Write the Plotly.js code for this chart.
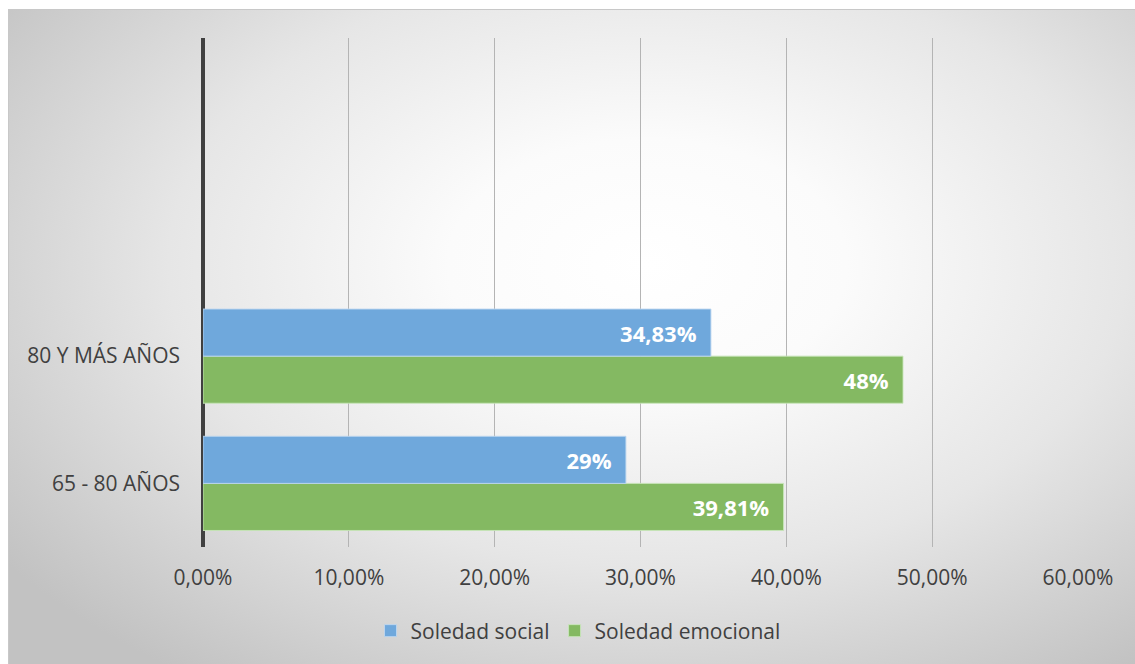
<!DOCTYPE html>
<html><head><meta charset="utf-8">
<script src="https://cdn.plot.ly/plotly-3.0.1.min.js"></script>
<style>
html,body{margin:0;padding:0;background:#fff;width:1135px;height:664px;overflow:hidden;}
#bg{position:absolute;left:8px;top:9px;width:1140px;height:670px;border:1px solid #c8c8c8;
background:radial-gradient(ellipse 70% 75% at 56% 38%, #ffffff 0%, #fbfbfb 25%, #e6e6e6 60%, #c2c2c2 100%);}
#chart{position:absolute;left:0;top:0;width:1135px;height:664px;}
</style></head>
<body><div id="bg"></div><div id="chart"></div>
<script>
const categories = ['65 - 80 AÑOS', '80 Y MÁS AÑOS'];
const socialValues = [0.29, 0.3483];
const emocionalValues = [0.3981, 0.48];
const socialLabels = ['29%', '34,83%'];
const emocionalLabels = ['39,81%', '48%'];
const tickValues = [0, 0.1, 0.2, 0.3, 0.4, 0.5, 0.6];

const FONT = '"Open Sans", sans-serif';
const pad = '\u00a0\u00a0';
const labelFont = {color:'#ffffff', size:22, family:FONT, weight:'bold'};
const traces = [
  {type:'bar', orientation:'h', name:'Soledad emocional', y:categories, x:emocionalValues,
   text:emocionalLabels, texttemplate:'%{text}'+pad, textposition:'inside', insidetextanchor:'end',
   textfont:labelFont, marker:{color:'#84b962', line:{color:'rgba(200,230,185,0.9)', width:1}}, hoverinfo:'skip'},
  {type:'bar', orientation:'h', name:'Soledad social', y:categories, x:socialValues,
   text:socialLabels, texttemplate:'%{text}'+pad, textposition:'inside', insidetextanchor:'end',
   textfont:labelFont, marker:{color:'#6fa8dc', line:{color:'rgba(190,215,240,0.9)', width:1}}, hoverinfo:'skip'}
];
const layout = {
  width:1135, height:664,
  margin:{l:203, r:57, t:38, b:117, autoexpand:false},
  paper_bgcolor:'rgba(0,0,0,0)', plot_bgcolor:'rgba(0,0,0,0)',
  separators:',.',
  barmode:'group', bargap:0.26, bargroupgap:0,
  font:{family:FONT, color:'#404040', size:21},
  xaxis:{range:[0,0.6], tickvals:tickValues, tickformat:'.2%', tickangle:0, showgrid:true, gridcolor:'#b4b4b4', gridwidth:1,
    zeroline:true, zerolinecolor:'#404040', zerolinewidth:4, showline:false, ticks:'', ticklabelstandoff:16,
    tickfont:{size:21, color:'#404040'}, fixedrange:true, automargin:false},
  yaxis:{type:'category', categoryorder:'array', categoryarray:categories, range:[-0.5,3.5],
    showgrid:false, zeroline:false, showline:false, ticks:'', ticklabelstandoff:22,
    tickfont:{size:21, color:'#404040'}, fixedrange:true, automargin:false},
  showlegend:true,
  legend:{orientation:'h', x:0.4286, xanchor:'center', y:-0.165, yanchor:'middle', traceorder:'reversed',
    font:{size:21, color:'#404040'}, bgcolor:'rgba(0,0,0,0)', itemwidth:30}
};
Plotly.newPlot('chart', traces, layout, {displayModeBar:false, staticPlot:true});
</script></body></html>
